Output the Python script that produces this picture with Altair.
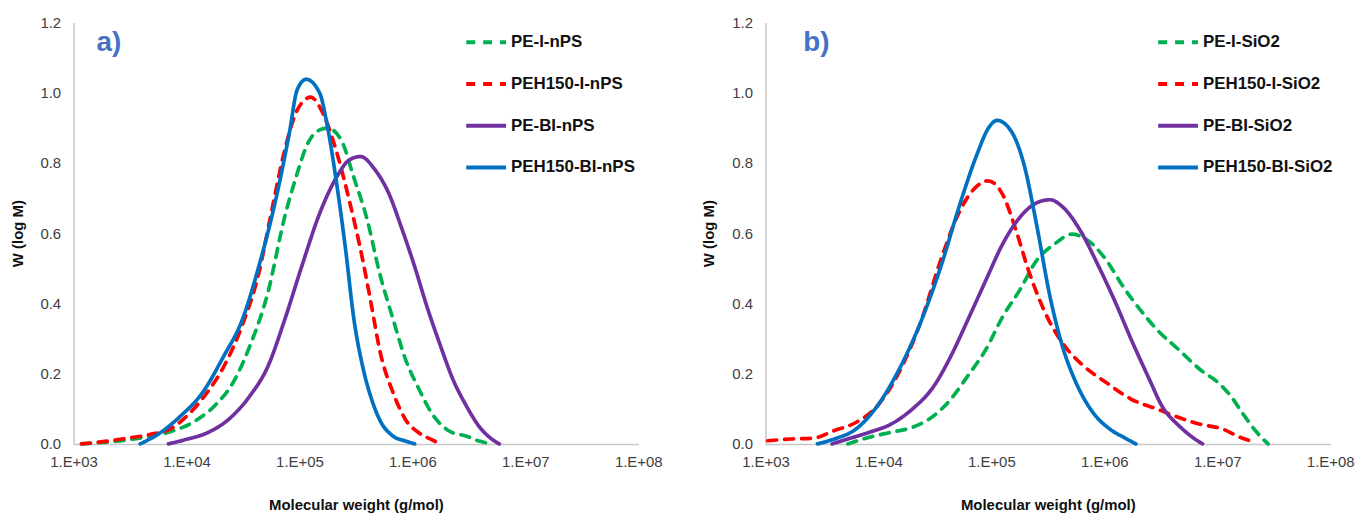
import altair as alt
import pandas as pd

FONT = "Liberation Sans"

# ---------------- panel a ----------------
a_names = ["PE-I-nPS", "PEH150-I-nPS", "PE-BI-nPS", "PEH150-BI-nPS"]

a_pe_i_logm = [3.07, 3.49, 3.68, 3.87, 4.07, 4.26, 4.41, 4.56, 4.72, 4.87, 4.98, 5.06, 5.18, 5.25,
               5.37, 5.48, 5.60, 5.71, 5.83, 5.94, 6.06, 6.17, 6.33, 6.48, 6.59, 6.71]
a_pe_i_w = [0.0, 0.012, 0.022, 0.036, 0.064, 0.112, 0.173, 0.278, 0.43, 0.647, 0.77, 0.846, 0.894, 0.899,
            0.865, 0.76, 0.638, 0.486, 0.354, 0.24, 0.155, 0.088, 0.036, 0.022, 0.008, 0.0]

a_peh_i_logm = [3.07, 3.30, 3.49, 3.68, 3.87, 4.03, 4.18, 4.33, 4.49, 4.64, 4.75, 4.87, 4.98, 5.10,
                5.21, 5.33, 5.44, 5.56, 5.64, 5.71, 5.83, 5.94, 6.06, 6.17, 6.25]
a_peh_i_w = [0.0, 0.008, 0.017, 0.027, 0.045, 0.088, 0.145, 0.22, 0.335, 0.486, 0.657, 0.837, 0.95, 0.987,
             0.94, 0.83, 0.695, 0.524, 0.39, 0.268, 0.145, 0.069, 0.031, 0.012, 0.0]

a_pe_bi_logm = [3.84, 3.99, 4.18, 4.37, 4.56, 4.72, 4.87, 5.02, 5.18, 5.33, 5.44, 5.54, 5.67, 5.79,
                5.90, 6.02, 6.13, 6.25, 6.36, 6.48, 6.59, 6.71, 6.77]
a_pe_bi_w = [0.0, 0.012, 0.031, 0.069, 0.136, 0.22, 0.354, 0.505, 0.657, 0.76, 0.808, 0.818, 0.78, 0.714,
             0.619, 0.505, 0.39, 0.278, 0.183, 0.107, 0.05, 0.012, 0.0]

a_peh_bi_logm = [3.59, 3.76, 3.95, 4.14, 4.33, 4.49, 4.64, 4.79, 4.91, 4.98, 5.06, 5.18, 5.25, 5.33,
                 5.41, 5.48, 5.56, 5.64, 5.71, 5.83, 5.94, 6.02]
a_peh_bi_w = [0.0, 0.03, 0.08, 0.145, 0.25, 0.35, 0.505, 0.695, 0.884, 1.008, 1.038, 0.998, 0.90, 0.74,
              0.55, 0.36, 0.22, 0.126, 0.069, 0.022, 0.008, 0.0]

# ---------------- panel b ----------------
b_names = ["PE-I-SiO2", "PEH150-I-SiO2", "PE-BI-SiO2", "PEH150-BI-SiO2"]

b_pe_i_logm = [3.73, 3.92, 4.11, 4.30, 4.49, 4.64, 4.79, 4.95, 5.10, 5.25, 5.40, 5.56, 5.71, 5.86,
               6.02, 6.17, 6.32, 6.47, 6.66, 6.85, 7.01, 7.12, 7.24, 7.35, 7.45]
b_pe_i_w = [0.0, 0.019, 0.033, 0.047, 0.08, 0.127, 0.193, 0.268, 0.362, 0.437, 0.522, 0.569, 0.597, 0.578,
            0.522, 0.446, 0.381, 0.324, 0.268, 0.211, 0.174, 0.136, 0.08, 0.033, 0.0]

b_peh_i_logm = [3.02, 3.23, 3.42, 3.61, 3.80, 3.99, 4.18, 4.37, 4.56, 4.72, 4.87, 4.97, 5.10, 5.21,
                5.33, 5.48, 5.63, 5.82, 6.02, 6.24, 6.47, 6.66, 6.85, 7.05, 7.20, 7.33]
b_peh_i_w = [0.009, 0.014, 0.016, 0.038, 0.061, 0.108, 0.202, 0.343, 0.531, 0.663, 0.733, 0.749, 0.71, 0.616,
             0.493, 0.371, 0.287, 0.221, 0.174, 0.127, 0.099, 0.075, 0.056, 0.042, 0.019, 0.005]

b_pe_bi_logm = [3.59, 3.73, 3.92, 4.11, 4.30, 4.49, 4.64, 4.79, 4.95, 5.10, 5.25, 5.40, 5.52, 5.63,
                5.79, 5.94, 6.09, 6.24, 6.40, 6.51, 6.66, 6.78, 6.87]
b_pe_bi_w = [0.0, 0.014, 0.033, 0.056, 0.099, 0.164, 0.249, 0.352, 0.465, 0.569, 0.644, 0.686, 0.695, 0.675,
             0.606, 0.512, 0.409, 0.296, 0.183, 0.108, 0.052, 0.019, 0.0]

b_peh_bi_logm = [3.46, 3.61, 3.80, 3.99, 4.18, 4.37, 4.56, 4.72, 4.87, 4.98, 5.05, 5.18, 5.29, 5.40,
                 5.52, 5.63, 5.75, 5.90, 6.05, 6.17, 6.28]
b_peh_bi_w = [0.0, 0.014, 0.042, 0.108, 0.21, 0.343, 0.512, 0.681, 0.822, 0.902, 0.921, 0.888, 0.794, 0.625,
              0.418, 0.277, 0.174, 0.089, 0.042, 0.019, 0.0]

x_tick_values = [3, 4, 5, 6, 7, 8]
y_tick_values = [0.0, 0.2, 0.4, 0.6, 0.8, 1.0, 1.2]
colors = ["#00B050", "#FF0000", "#7030A0", "#0070C0"]
dashes = [[9, 8], [9, 8], [1, 0], [1, 0]]


def frame(names, series):
    rows = []
    for name, (lm, w) in zip(names, series):
        for i, (a, b) in enumerate(zip(lm, w)):
            rows.append({"series": name, "logM": a, "W": b, "order": i})
    return pd.DataFrame(rows)


def panel(df, names, label, label_dx):
    legend = alt.Legend(
        orient="none", legendX=393, legendY=-2, title=None,
        symbolType="stroke", symbolSize=1600, symbolStrokeWidth=4,
        labelFont=FONT, labelFontSize=17, labelFontWeight="bold", labelColor="#111111",
        rowPadding=12, labelOffset=3,
    )
    return alt.Chart(df).mark_line(strokeWidth=3.7, strokeCap="round", interpolate="monotone").encode(
        x=alt.X("logM:Q", scale=alt.Scale(domain=[3, 8], nice=False),
                axis=alt.Axis(values=x_tick_values, labelExpr="'1.E+0' + datum.value",
                              grid=False, ticks=False, domainColor="#c8c8c8", domainWidth=1.5,
                              labelFont=FONT, labelFontSize=15, labelColor="#404040",
                              labelPadding=11, labelFlush=False, labelOverlap=False,
                              title="Molecular weight (g/mol)", titleFont=FONT, titleFontSize=15,
                              titleFontWeight="bold", titleColor="#111111", titlePadding=28)),
        y=alt.Y("W:Q", scale=alt.Scale(domain=[0, 1.2], nice=False),
                axis=alt.Axis(values=y_tick_values, format=".1f",
                              grid=False, ticks=False, domainColor="#c8c8c8", domainWidth=1.5,
                              labelFont=FONT, labelFontSize=15, labelColor="#404040",
                              labelPadding=13,
                              title="W (log M)", titleFont=FONT, titleFontSize=15,
                              titleFontWeight="bold", titleColor="#111111", titlePadding=15)),
        color=alt.Color("series:N", scale=alt.Scale(domain=names, range=colors), legend=legend),
        strokeDash=alt.StrokeDash("series:N", scale=alt.Scale(domain=names, range=dashes), legend=legend),
        order="order:Q",
    ).properties(
        width=568, height=424,
        title=alt.TitleParams(label, anchor="start", frame="group", orient="top", offset=-64,
                              baseline="alphabetic", dx=label_dx,
                              font=FONT, fontSize=28, fontWeight="bold", color="#4472C4"),
    )


df_a = frame(a_names, [(a_pe_i_logm, a_pe_i_w), (a_peh_i_logm, a_peh_i_w),
                       (a_pe_bi_logm, a_pe_bi_w), (a_peh_bi_logm, a_peh_bi_w)])
df_b = frame(b_names, [(b_pe_i_logm, b_pe_i_w), (b_peh_i_logm, b_peh_i_w),
                       (b_pe_bi_logm, b_pe_bi_w), (b_peh_bi_logm, b_peh_bi_w)])

chart = alt.hconcat(
    panel(df_a, a_names, "a)", 23),
    panel(df_b, b_names, "b)", 38),
    spacing=40,
).resolve_scale(color="independent", strokeDash="independent").resolve_legend(
    color="independent", strokeDash="independent"
).properties(
    padding={"left": 10, "top": 14, "right": 5, "bottom": 0},
    background="white",
).configure_view(strokeWidth=0)

chart.save("out.html", embed_options={"renderer": "svg", "actions": False})
